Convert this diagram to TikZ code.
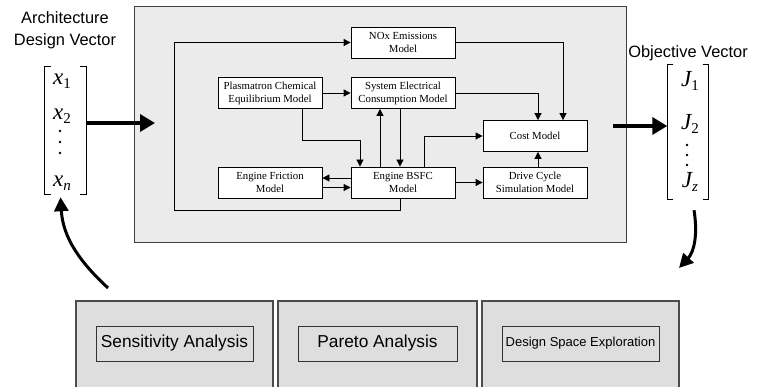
\documentclass[tikz,border=0pt]{standalone}
\usepackage{fontspec}
\setsansfont{Liberation Sans}
\newfontfamily\tnr{Liberation Serif}
\usetikzlibrary{arrows.meta}
\newcommand\vent[2]{{\tnr\fontsize{23}{23}\selectfont\itshape #1}\raisebox{-4pt}{\tnr\fontsize{15}{15}\selectfont #2}}
\begin{document}
\begin{tikzpicture}[x=1pt,y=-1pt,
    frame/.style={draw=black!75,line width=1pt,fill=black!8,minimum width=492pt,minimum height=236pt},
    model/.style={draw,line width=0.8pt,fill=white,minimum width=104pt,minimum height=31pt,inner sep=1pt,align=center,font=\tnr\fontsize{10.8}{13}\selectfont},
    link/.style={line width=0.8pt,-{Triangle[length=7pt,width=7pt]}},
    bigarrow/.style={line width=3.5pt,-{Triangle[length=15pt,width=17pt]}},
    loopback/.style={line width=3pt,-{Triangle[length=14pt,width=14pt]}},
    bracket/.style={line width=0.9pt},
    vecbox/.style={minimum width=41pt,inner sep=0pt},
    entry/.style={inner sep=0pt,anchor=base},
    vlabel/.style={font=\sffamily\fontsize{16.4}{18}\selectfont,inner sep=0pt},
    panel/.style={draw=black!70,line width=1.5pt,fill=black!13,minimum height=100pt},
    tool/.style={draw=black!80,line width=0.9pt,fill=black!13,minimum height=35pt,inner sep=1pt}]
\useasboundingbox (0,0) rectangle (765,387);
\clip (0,0) rectangle (765,387);
\node[frame] (main) at (380,125) {};
\node[model] (nox) at (403,42.5) {NOx Emissions\\Model};
\node[model] (plasma) at (270,93) {Plasmatron Chemical\\Equilibrium Model};
\node[model] (sec) at (403,93) {System Electrical\\Consumption Model};
\node[model] (fric) at (270,182.5) {Engine Friction\\Model};
\node[model] (bsfc) at (403,182.5) {Engine BSFC\\Model};
\node[model] (cost) at (535,136) {Cost Model};
\node[model] (drive) at (535,182.5) {Drive Cycle\\Simulation Model};
\coordinate (loop) at (174,210);
\coordinate (join) at (360,140);
\draw[link] ([xshift=-3pt]bsfc.south) |- (loop) |- (nox.west);
\draw[link] (plasma.east) -- (sec.west);
\draw[link] ([xshift=32pt]plasma.south) |- (join) -- (join |- bsfc.north);
\draw[link] ([xshift=-23pt]bsfc.north) -- ([xshift=-23pt]sec.south);
\draw[link] ([xshift=-3pt]sec.south) -- ([xshift=-3pt]bsfc.north);
\draw[link] ([xshift=21pt]bsfc.north) |- (cost.west);
\draw[link] ([yshift=4.5pt]bsfc.west) -- ([yshift=4.5pt]fric.east);
\draw[link] ([yshift=-5pt]fric.east) -- ([yshift=-5pt]bsfc.west);
\draw[link] (bsfc.east) -- (drive.west);
\draw[link] ([xshift=3pt]drive.north) -- ([xshift=3pt]cost.south);
\draw[link] (sec.east) -| ([xshift=3pt]cost.north);
\draw[link] (nox.east) -| ([xshift=28pt]cost.north);
\node[vlabel] (arch) at (65,18) {Architecture};
\node[vlabel] (dvt) at (65,41) {Design Vector};
\node[vecbox,minimum height=127pt] (dv) at (65.5,130.5) {};
\draw[bracket] ([xshift=6pt]dv.north west) -- (dv.north west) -- (dv.south west) -- ([xshift=6pt]dv.south west);
\draw[bracket] ([xshift=-6pt]dv.north east) -- (dv.north east) -- (dv.south east) -- ([xshift=-6pt]dv.south east);
\node[entry] (x1) at (62,85) {\vent{x}{1}};
\node[entry] (x2) at (62,120) {\vent{x}{2}};
\foreach \y in {131,142,153} \fill (60,\y) circle (1.4pt);
\node[entry] (xn) at (62,187) {\vent{x}{\itshape n}};
\node[vlabel] (ovt) at (688,53) {Objective Vector};
\node[vecbox,minimum height=134pt] (ov) at (688,132) {};
\draw[bracket] ([xshift=6pt]ov.north west) -- (ov.north west) -- (ov.south west) -- ([xshift=6pt]ov.south west);
\draw[bracket] ([xshift=-6pt]ov.north east) -- (ov.north east) -- (ov.south east) -- ([xshift=-6pt]ov.south east);
\node[entry] (j1) at (690,87) {\vent{J}{1}};
\node[entry] (j2) at (690,130) {\vent{J}{2}};
\foreach \y in {145,155,165} \fill (687,\y) circle (1.4pt);
\node[entry] (jz) at (690,188) {\vent{J}{\itshape z}};
\coordinate (inTip) at (155,123);
\coordinate (outTail) at (613,126);
\draw[bigarrow] (dv.east |- inTip) -- (inTip);
\draw[bigarrow] (outTail) -- (outTail -| ov.west);
\node[panel,minimum width=197pt] (sensp) at (174.5,351) {};
\node[panel,minimum width=199pt] (parp) at (377.5,351) {};
\node[panel,minimum width=197pt] (dsep) at (580.5,351) {};
\node[tool,minimum width=157pt,font=\sffamily\fontsize{17.3}{20}\selectfont] (sens) at (174.5,343.5) {Sensitivity Analysis};
\node[tool,minimum width=159pt,font=\sffamily\fontsize{17.3}{20}\selectfont] (par) at (377.5,343.5) {Pareto Analysis};
\node[tool,minimum width=157pt,font=\sffamily\fontsize{13}{15}\selectfont] (dse) at (580.5,343.5) {Design Space Exploration};
\coordinate (fbStart) at (108,288);
\coordinate (fbTip) at (679,268);
\draw[loopback] (fbStart) .. controls (80,262) and (63,238) .. ([xshift=-5pt,yshift=-3pt]dv.south);
\draw[loopback] ([xshift=6pt,yshift=-11pt]ov.south) .. controls (698,235) and (694,252) .. (fbTip);
\end{tikzpicture}
\end{document}
